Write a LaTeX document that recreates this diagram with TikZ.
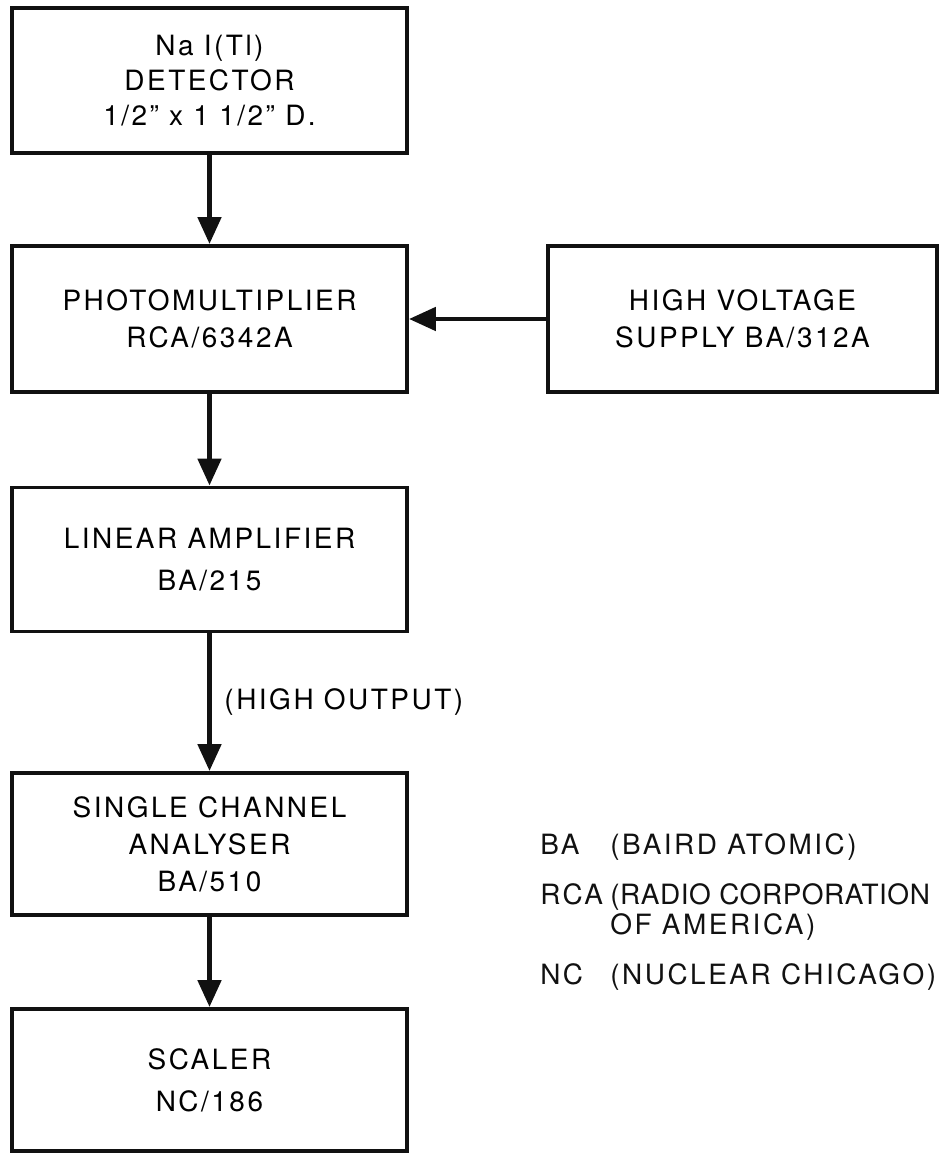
\documentclass[tikz,border=0pt]{standalone}
\usepackage{fontspec}
\setmainfont[LetterSpace=9]{TeX Gyre Heros}
\usetikzlibrary{arrows.meta,positioning}
\definecolor{DiagInk}{HTML}{111111}

\begin{document}
\begin{tikzpicture}[x=1cm,y=1cm,line join=miter,
    font=\fontsize{15.9}{21}\selectfont,
    unit/.style={draw=DiagInk,line width=2.2pt,align=center,inner sep=0pt,
      minimum width=7.9cm,minimum height=2.88cm},
    signal/.style={draw=DiagInk,line width=2.8pt,
      -{Triangle[length=0.54cm,width=0.46cm]}},
    keyname/.style={anchor=base west,inner sep=0pt,text=DiagInk}]
  \useasboundingbox (0,0) rectangle (18.8,23.06);

  % Counting chain, top to bottom.
  \node[unit,minimum height=2.9cm] (detector) at (4.19,21.45)
    {Na I(Tl)\\[-1pt]DETECTOR\\[-1pt]1/2" x 1 1/2" D.};
  \node[unit,minimum height=2.92cm] (pmt) at (4.19,16.68)
    {PHOTOMULTIPLIER\\RCA/6342A};
  \node[unit,minimum width=7.78cm,minimum height=2.92cm] (hvsupply)
    at (14.85,16.68) {HIGH VOLTAGE\\SUPPLY BA/312A};
  \node[unit] (linamp) at (4.19,11.87)
    {LINEAR AMPLIFIER\\[3pt]BA/215};
  \node[unit,minimum height=2.84cm] (sca) at (4.19,6.18)
    {SINGLE CHANNEL\\ANALYSER\\BA/510};
  \node[unit,minimum height=2.84cm] (scaler) at (4.19,1.46)
    {SCALER\\[3pt]NC/186};

  \draw[signal] (detector) -- (pmt);
  \draw[signal] (hvsupply) -- (pmt);
  \draw[signal] (pmt) -- (linamp);
  \draw[signal] (linamp) -- (sca)
    node[midway,right=0.25cm,inner sep=0pt] (hiout) {(HIGH OUTPUT)};
  \draw[signal] (sca) -- (scaler);

  % Maker abbreviations.
  \node[keyname] (ba) at (10.8,5.96) {BA};
  \node[keyname] (bafull) at (12.2,5.96) {(BAIRD ATOMIC)};
  \node[keyname] (rca) at (10.8,4.96) {RCA};
  \node[keyname,font=\fontsize{15.9}{21}\selectfont\addfontfeature{LetterSpace=2}]
    (rcafull) at (12.2,4.96) {(RADIO CORPORATION};
  \node[keyname] (rcafull2) at (12.2,4.36) {OF AMERICA)};
  \node[keyname] (nc) at (10.8,3.36) {NC};
  \node[keyname] (ncfull) at (12.2,3.36) {(NUCLEAR CHICAGO)};
\end{tikzpicture}
\end{document}
